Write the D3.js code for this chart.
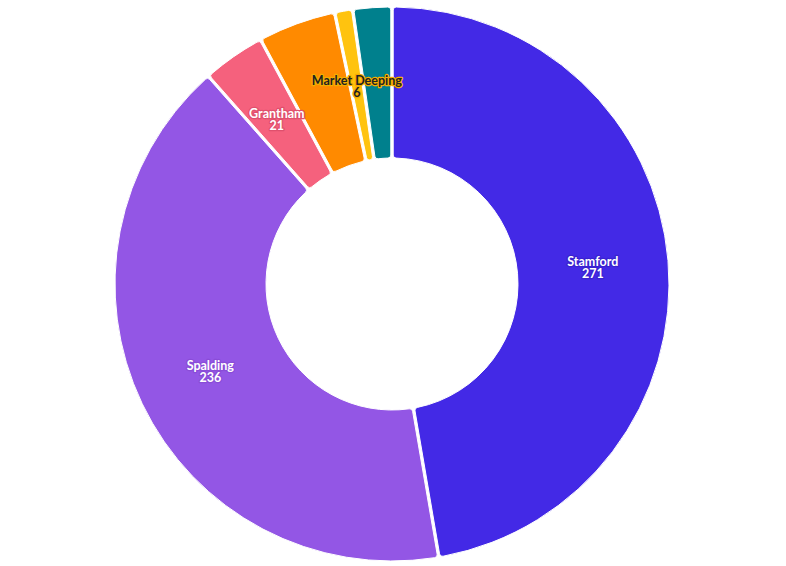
<!DOCTYPE html>
<html>
<head>
<meta charset="utf-8">
<script src="https://cdn.jsdelivr.net/npm/d3@7"></script>
<style>
  body { margin: 0; background: #fff; }
  svg { display: block; }
  text { font-family: Lato, "Open Sans", sans-serif; font-weight: 700; font-size: 12.5px; }
</style>
</head>
<body>
<div id="chart"></div>
<script>
// slices, clockwise from 12 o'clock
var towns = ["Stamford", "Spalding", "Grantham", "Bourne", "Market Deeping", "Other"];
var counts = [271, 236, 21, 26, 6, 13];
var colors = ["#4329e6", "#9356e5", "#f5617d", "#ff8a00", "#ffc30f", "#00808d"];
// which slices get a label on them
var showLabel = [true, true, true, false, true, false];
var labelFill = ["#fff", "#fff", "#fff", "#fff", "#222", "#fff"];
var haloColor = ["#3a22d0", "#8a4cd8", "#e0506d", "#ff8a00", "#f5ad00", "#00808d"];

var width = 786, height = 566;
var cx = 392, cy = 284;
var outerR = 277, innerR = 126;

var svg = d3.select("#chart")
    .append("svg")
    .attr("width", width)
    .attr("height", height)
    .append("g")
    .attr("transform", "translate(" + cx + "," + cy + ")");

var data = towns.map(function (t, i) {
    return { town: t, value: counts[i], i: i };
});

var pie = d3.pie()
    .value(function (d) { return d.value; })
    .sort(null);

var arc = d3.arc()
    .innerRadius(innerR)
    .outerRadius(outerR)
    .cornerRadius(3)
    .padAngle(0.008);

var arcs = pie(data);

svg.selectAll("path.slice")
    .data(arcs)
    .enter()
    .append("path")
    .attr("class", "slice")
    .attr("d", arc)
    .attr("fill", function (d) { return colors[d.data.i]; })
    .attr("stroke", "#fff")
    .attr("stroke-width", 1);

// labels at the slice centroid, name over value
var labels = svg.selectAll("g.label")
    .data(arcs.filter(function (d) { return showLabel[d.data.i]; }))
    .enter()
    .append("g")
    .attr("class", "label")
    .attr("transform", function (d) {
        var c = arc.centroid(d);
        return "translate(" + c[0] + "," + c[1] + ")";
    });

["town", "value"].forEach(function (key, k) {
    labels.append("text")
        .attr("text-anchor", "middle")
        .attr("y", k === 0 ? -1 : 11)
        .attr("fill", function (d) { return labelFill[d.data.i]; })
        .attr("stroke", function (d) { return haloColor[d.data.i]; })
        .attr("stroke-width", 2.5)
        .attr("stroke-linejoin", "round")
        .attr("paint-order", "stroke")
        .text(function (d) { return d.data[key]; });
});
</script>
</body>
</html>
